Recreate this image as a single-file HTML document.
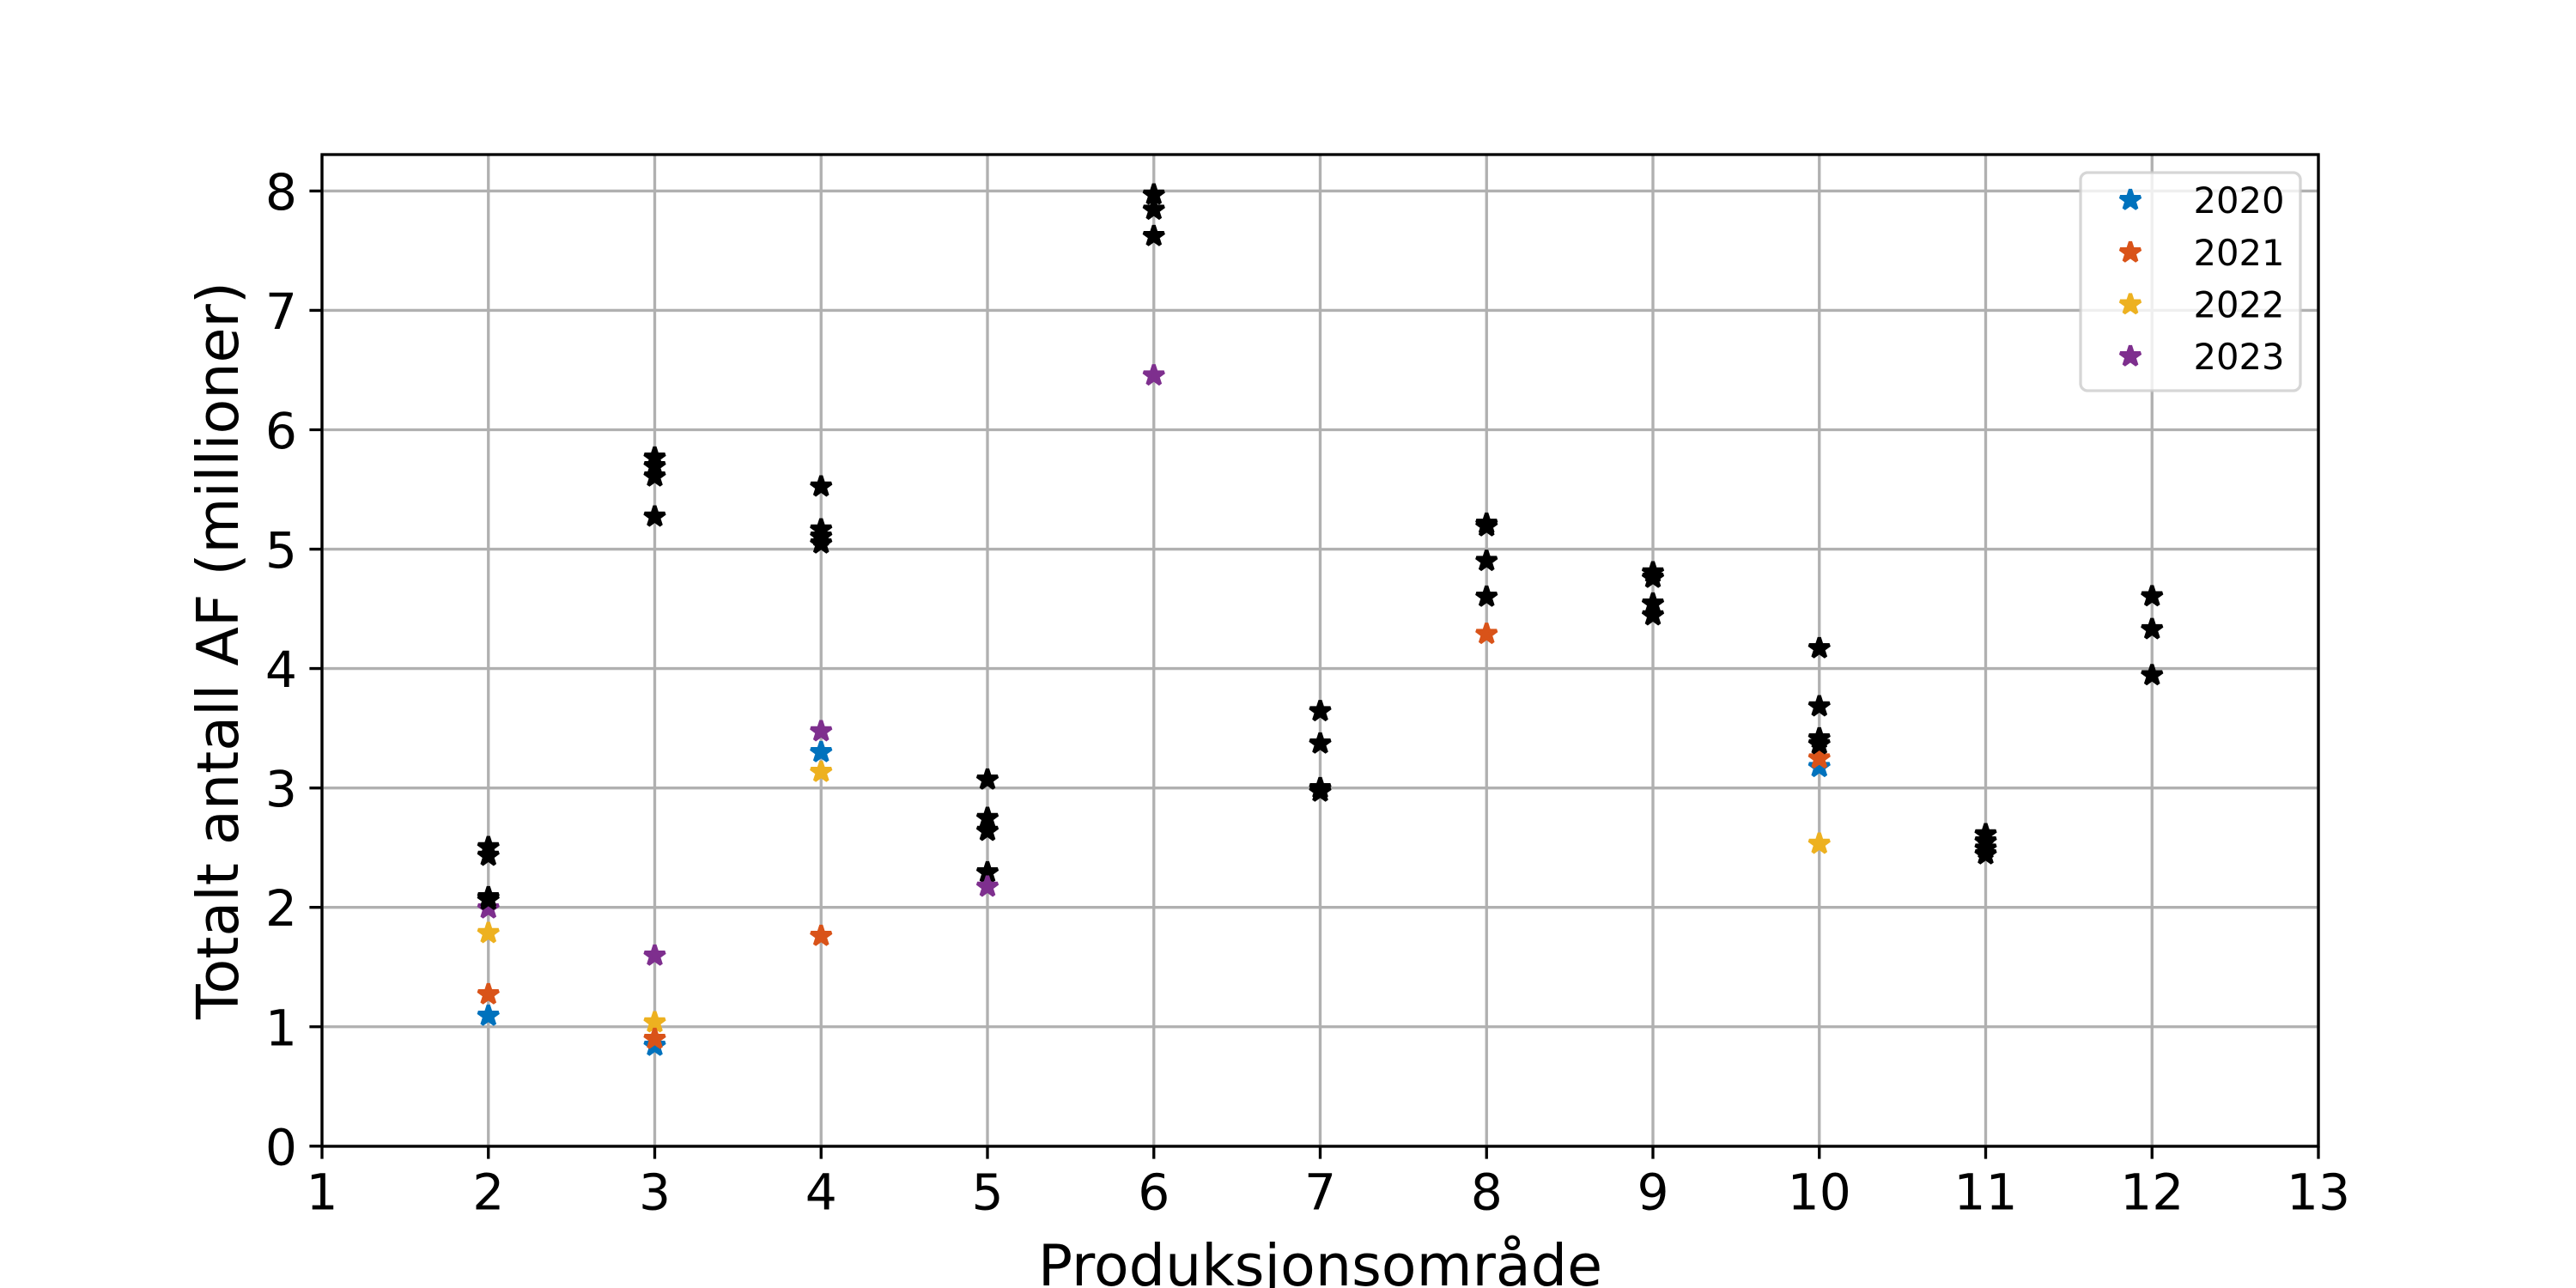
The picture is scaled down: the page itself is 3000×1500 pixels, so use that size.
<!DOCTYPE html>
<html>
<head>
<meta charset="utf-8">
<style>
html,body{margin:0;padding:0;background:#fff;}
svg{display:block;}
text{font-family:"DejaVu Sans","Liberation Sans",sans-serif;fill:#000;}
.b{fill:#0072BD;stroke:#0072BD}.o{fill:#D95319;stroke:#D95319}.y{fill:#EDB120;stroke:#EDB120}.p{fill:#7E2F8E;stroke:#7E2F8E}.k{fill:#000;stroke:#000}
</style>
</head>
<body>
<svg width="3000" height="1500" viewBox="0 0 3000 1500" xmlns="http://www.w3.org/2000/svg">
<defs>
<path id="s" d="M0,-12.5 L-2.807,-3.863 L-11.888,-3.863 L-4.541,1.475 L-7.347,10.113 L0,4.775 L7.347,10.113 L4.541,1.475 L11.888,-3.863 L2.807,-3.863 Z" stroke-width="4.17" stroke-linejoin="bevel"/>
</defs>
<rect width="3000" height="1500" fill="#fff"/>
<path fill="none" stroke="#b0b0b0" stroke-width="3.33" d="M375 180V1335M568.75 180V1335M762.5 180V1335M956.25 180V1335M1150 180V1335M1343.75 180V1335M1537.5 180V1335M1731.25 180V1335M1925 180V1335M2118.75 180V1335M2312.5 180V1335M2506.25 180V1335M2700 180V1335M375 1334.8H2700M375 1195.75H2700M375 1056.7H2700M375 917.65H2700M375 778.6H2700M375 639.55H2700M375 500.5H2700M375 361.45H2700M375 222.4H2700"/>
<g class="b"><use href="#s" x="568.75" y="1183"/><use href="#s" x="762.5" y="1218"/><use href="#s" x="956.25" y="876"/><use href="#s" x="2118.75" y="893.3"/></g>
<g class="y"><use href="#s" x="568.75" y="1086.7"/><use href="#s" x="762.5" y="1190.7"/><use href="#s" x="956.25" y="899"/><use href="#s" x="2118.75" y="982.7"/></g>
<g class="o"><use href="#s" x="568.75" y="1158"/><use href="#s" x="762.5" y="1210"/><use href="#s" x="956.25" y="1090"/><use href="#s" x="1731.25" y="738.3"/><use href="#s" x="2118.75" y="883.3"/></g>
<g class="p"><use href="#s" x="568.75" y="1058"/><use href="#s" x="762.5" y="1113"/><use href="#s" x="956.25" y="851.7"/><use href="#s" x="1343.75" y="437.3"/></g>
<g class="k">
<use href="#s" x="568.75" y="986.7"/><use href="#s" x="568.75" y="996.7"/><use href="#s" x="568.75" y="1045"/><use href="#s" x="568.75" y="1048"/>
<use href="#s" x="762.5" y="533"/><use href="#s" x="762.5" y="543"/><use href="#s" x="762.5" y="555"/><use href="#s" x="762.5" y="601.7"/>
<use href="#s" x="956.25" y="566.7"/><use href="#s" x="956.25" y="616.7"/><use href="#s" x="956.25" y="625"/><use href="#s" x="956.25" y="633"/>
<use href="#s" x="1150" y="908"/><use href="#s" x="1150" y="952.7"/><use href="#s" x="1150" y="967.7"/><use href="#s" x="1150" y="1016"/>
<use href="#s" x="1343.75" y="226.7"/><use href="#s" x="1343.75" y="244.3"/><use href="#s" x="1343.75" y="275"/>
<use href="#s" x="1537.5" y="828.3"/><use href="#s" x="1537.5" y="866"/><use href="#s" x="1537.5" y="918"/><use href="#s" x="1537.5" y="922"/>
<use href="#s" x="1731.25" y="610"/><use href="#s" x="1731.25" y="613"/><use href="#s" x="1731.25" y="653.3"/><use href="#s" x="1731.25" y="695"/>
<use href="#s" x="1925" y="666.7"/><use href="#s" x="1925" y="673"/><use href="#s" x="1925" y="703"/><use href="#s" x="1925" y="716.7"/>
<use href="#s" x="2118.75" y="755"/><use href="#s" x="2118.75" y="822.7"/><use href="#s" x="2118.75" y="860"/><use href="#s" x="2118.75" y="866.7"/>
<use href="#s" x="2312.5" y="971.7"/><use href="#s" x="2312.5" y="980"/><use href="#s" x="2312.5" y="988.3"/><use href="#s" x="2312.5" y="995"/>
<use href="#s" x="2506.25" y="694.5"/><use href="#s" x="2506.25" y="732.8"/><use href="#s" x="2506.25" y="786.4"/>
</g>
<g class="p"><use href="#s" x="1150" y="1032.7"/></g>
<rect x="375" y="180" width="2325" height="1155" fill="none" stroke="#000" stroke-width="3.33"/>
<path fill="none" stroke="#000" stroke-width="3.33" d="M360.4 1334.8H375M360.4 1195.75H375M360.4 1056.7H375M360.4 917.65H375M360.4 778.6H375M360.4 639.55H375M360.4 500.5H375M360.4 361.45H375M360.4 222.4H375M375 1335V1349.6M568.75 1335V1349.6M762.5 1335V1349.6M956.25 1335V1349.6M1150 1335V1349.6M1343.75 1335V1349.6M1537.5 1335V1349.6M1731.25 1335V1349.6M1925 1335V1349.6M2118.75 1335V1349.6M2312.5 1335V1349.6M2506.25 1335V1349.6M2700 1335V1349.6"/>
<g font-size="58.33" text-anchor="end">
<text x="346" y="1356.3">0</text><text x="346" y="1217.25">1</text><text x="346" y="1078.2">2</text>
<text x="346" y="939.15">3</text><text x="346" y="800.1">4</text><text x="346" y="661.05">5</text>
<text x="346" y="522">6</text><text x="346" y="382.95">7</text><text x="346" y="243.9">8</text>
</g>
<g font-size="58.33" text-anchor="middle">
<text x="375" y="1408.5">1</text><text x="568.75" y="1408.5">2</text><text x="762.5" y="1408.5">3</text>
<text x="956.25" y="1408.5">4</text><text x="1150" y="1408.5">5</text><text x="1343.75" y="1408.5">6</text>
<text x="1537.5" y="1408.5">7</text><text x="1731.25" y="1408.5">8</text><text x="1925" y="1408.5">9</text>
<text x="2118.75" y="1408.5">10</text><text x="2312.5" y="1408.5">11</text><text x="2506.25" y="1408.5">12</text>
<text x="2700" y="1408.5">13</text>
</g>
<text x="1537.5" y="1497" font-size="66.67" text-anchor="middle">Produksjonsområde</text>
<text transform="translate(277,757.5) rotate(-90)" font-size="66.67" text-anchor="middle">Totalt antall AF (millioner)</text>
<rect x="2423" y="201" width="256" height="254" rx="8.3" ry="8.3" fill="#fff" fill-opacity="0.8" stroke="#cccccc" stroke-opacity="0.8" stroke-width="3.33"/>
<use href="#s" x="2481" y="233" class="b"/><use href="#s" x="2481" y="294" class="o"/>
<use href="#s" x="2481" y="354.5" class="y"/><use href="#s" x="2481" y="415" class="p"/>
<g font-size="41.67">
<text x="2554.5" y="248">2020</text><text x="2554.5" y="309">2021</text>
<text x="2554.5" y="369.5">2022</text><text x="2554.5" y="430">2023</text>
</g>
</svg>
</body>
</html>
